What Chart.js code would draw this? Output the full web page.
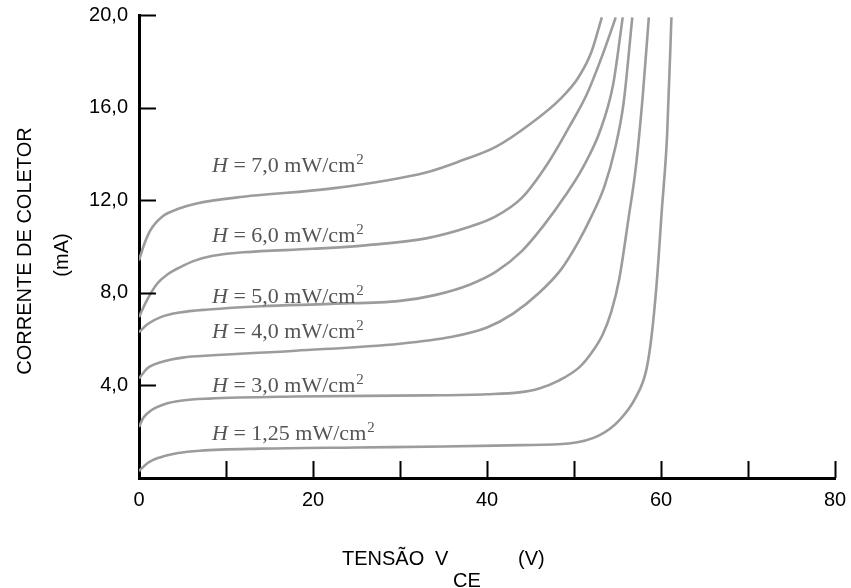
<!DOCTYPE html>
<html>
<head>
<meta charset="utf-8">
<script src="https://cdn.jsdelivr.net/npm/chart.js@4.4.1/dist/chart.umd.min.js"></script>
<style>
  html, body { margin: 0; padding: 0; background: #fff; }
</style>
</head>
<body>
<canvas id="myChart" width="851" height="588"></canvas>
<script>
// curve data: collector voltage (V) and collector current (mA)
const irradiance = ['1,25', '3,0', '4,0', '5,0', '6,0', '7,0'];

const vce_125 = [0, 1, 2.5, 4.5, 7, 14, 25, 35, 44, 49.4, 52.9, 55.2, 57.1, 58.3, 58.9, 59.5, 60.1, 60.7, 61.2];
const ic_125  = [0.3, 0.65, 0.9, 1.08, 1.18, 1.27, 1.32, 1.36, 1.42, 1.49, 1.84, 2.49, 3.48, 4.65, 6.08, 8.4, 11.6, 14.8, 19.9];

const vce_3 = [0, 0.5, 1.5, 3, 5, 8, 18, 33, 40, 43.7, 46, 48.3, 50.6, 52, 53.3, 54.3, 55.2, 56.3, 57.1, 57.9, 58.6];
const ic_3  = [2.2, 2.6, 2.95, 3.2, 3.35, 3.43, 3.52, 3.57, 3.62, 3.7, 3.87, 4.22, 4.78, 5.4, 6.2, 7.2, 8.6, 11.3, 13.4, 16.5, 19.9];

const vce_4 = [0, 1, 2.5, 5, 8.5, 18, 30, 36, 40, 43, 46, 48.5, 50.5, 52, 53.5, 54.7, 55.7, 56.7];
const ic_4  = [4.3, 4.75, 5.0, 5.2, 5.3, 5.5, 5.8, 6.1, 6.5, 7.1, 8.0, 9.0, 10.2, 11.3, 12.6, 14.2, 16.2, 19.9];

const vce_5 = [0, 1, 2.5, 4.7, 8, 14, 22, 30, 34, 38, 41, 44, 46.5, 49, 51, 53, 54.5, 55.6];
const ic_5  = [6.3, 6.65, 6.95, 7.15, 7.28, 7.42, 7.52, 7.65, 7.9, 8.35, 8.9, 9.8, 10.9, 12.2, 13.4, 15.0, 17.0, 19.9];

const vce_6 = [0, 0.8, 2.1, 3.3, 4.7, 6.5, 8.5, 12, 20, 26, 33, 38, 41, 44, 47, 49.5, 51.5, 53.3, 54.8];
const ic_6  = [6.95, 7.6, 8.4, 8.8, 9.1, 9.4, 9.6, 9.75, 9.9, 10.05, 10.35, 10.85, 11.3, 12.1, 13.6, 15.2, 16.6, 18.3, 19.9];

const vce_7 = [0, 0.6, 1.3, 2.7, 4.7, 6.5, 12, 22, 33, 37, 41, 45, 48.5, 50.5, 52, 53.2];
const ic_7  = [9.4, 10.1, 10.7, 11.3, 11.65, 11.85, 12.15, 12.5, 13.2, 13.7, 14.3, 15.3, 16.4, 17.3, 18.4, 19.9];

const xTicks = [0, 20, 40, 60, 80];
const yTicks = ['4,0', '8,0', '12,0', '16,0', '20,0'];

// where each "H = ..." text sits (data coords of left end / baseline)
const labelAt = [[8.4, 1.64], [8.4, 3.71], [8.4, 6.05], [8.4, 7.56], [8.4, 10.2], [8.4, 13.2]];

const series = [[vce_125, ic_125], [vce_3, ic_3], [vce_4, ic_4], [vce_5, ic_5], [vce_6, ic_6], [vce_7, ic_7]];

const sansFont = '"Liberation Sans", Arial, sans-serif';
const serifFont = '"Liberation Serif", "Times New Roman", serif';

const innerTicks = {
    id: 'innerTicks',
    afterDraw(chart) {
        const {ctx, scales: {x, y}} = chart;
        ctx.save();
        ctx.strokeStyle = '#000';
        ctx.lineWidth = 2;
        x.ticks.forEach(t => {
            if (t.value === 0) return;
            const px = Math.round(x.getPixelForValue(t.value)) + 0.5;
            ctx.beginPath();
            ctx.moveTo(px, x.top);
            ctx.lineTo(px, x.top - 17);
            ctx.stroke();
        });
        y.ticks.forEach(t => {
            if (t.value === 0) return;
            const py = Math.round(y.getPixelForValue(t.value)) + 0.5;
            ctx.beginPath();
            ctx.moveTo(y.right, py);
            ctx.lineTo(y.right + 17, py);
            ctx.stroke();
        });

        // axis titles
        ctx.fillStyle = '#000';
        ctx.font = '20px ' + sansFont;
        ctx.textBaseline = 'alphabetic';
        ctx.textAlign = 'left';
        ctx.fillText('TENSÃO', 342, 565);
        ctx.fillText('V', 435, 565);
        ctx.fillText('CE', 453, 587);
        ctx.fillText('(V)', 518, 565);

        ctx.textAlign = 'center';
        ctx.textBaseline = 'middle';
        ctx.save();
        ctx.translate(25, 251);
        ctx.rotate(-Math.PI / 2);
        ctx.fillText('CORRENTE DE COLETOR', 0, 0);
        ctx.restore();
        ctx.save();
        ctx.translate(62, 255);
        ctx.rotate(-Math.PI / 2);
        ctx.fillText('(mA)', 0, 0);
        ctx.restore();
        ctx.restore();
    }
};

const curveLabels = {
    id: 'curveLabels',
    afterDatasetsDraw(chart) {
        const {ctx, scales: {x, y}} = chart;
        ctx.save();
        ctx.fillStyle = '#555';
        ctx.textBaseline = 'alphabetic';
        ctx.textAlign = 'left';
        irradiance.forEach((h, i) => {
            let px = x.getPixelForValue(labelAt[i][0]);
            const py = y.getPixelForValue(labelAt[i][1]);
            ctx.font = 'italic 22px ' + serifFont;
            ctx.fillText('H', px, py);
            px += ctx.measureText('H').width;
            ctx.font = '22px ' + serifFont;
            const rest = ' = ' + h + ' mW/cm';
            ctx.fillText(rest, px, py);
            px += ctx.measureText(rest).width;
            ctx.font = '15px ' + serifFont;
            ctx.fillText('2', px + 1, py - 8);
        });
        ctx.restore();
    }
};

new Chart(document.getElementById('myChart'), {
    type: 'line',
    data: {
        datasets: series.map((s, i) => ({
            label: 'H = ' + irradiance[i] + ' mW/cm²',
            data: s[0].map((v, k) => ({x: v, y: s[1][k]})),
            borderColor: '#9c9c9c',
            borderWidth: 2.6,
            pointRadius: 0,
            fill: false,
            cubicInterpolationMode: 'monotone'
        }))
    },
    options: {
        responsive: false,
        animation: false,
        layout: { padding: { top: 15, right: 16, left: 0, bottom: 0 } },
        plugins: {
            legend: { display: false },
            tooltip: { enabled: false }
        },
        scales: {
            x: {
                type: 'linear',
                min: 0,
                max: 80,
                grid: { display: false, drawTicks: false },
                border: { display: true, color: '#000', width: 3 },
                ticks: {
                    stepSize: 10,
                    padding: 10,
                    color: '#000',
                    font: { family: sansFont, size: 20 },
                    maxRotation: 0,
                    autoSkip: false,
                    callback: v => xTicks.includes(v) ? String(v) : ''
                },
                afterFit: scale => {
                    scale.height = 110;
                    scale.paddingLeft = 0;
                    scale.paddingRight = 0;
                }
            },
            y: {
                type: 'linear',
                min: 0,
                max: 20,
                grid: { display: false, drawTicks: false },
                border: { display: true, color: '#000', width: 3 },
                ticks: {
                    stepSize: 4,
                    padding: 11,
                    color: '#000',
                    font: { family: sansFont, size: 20 },
                    callback: v => v === 0 ? '' : yTicks[v / 4 - 1]
                },
                afterFit: scale => {
                    scale.width = 139;
                    scale.paddingTop = 0;
                    scale.paddingBottom = 0;
                }
            }
        }
    },
    plugins: [innerTicks, curveLabels]
});
</script>
</body>
</html>
